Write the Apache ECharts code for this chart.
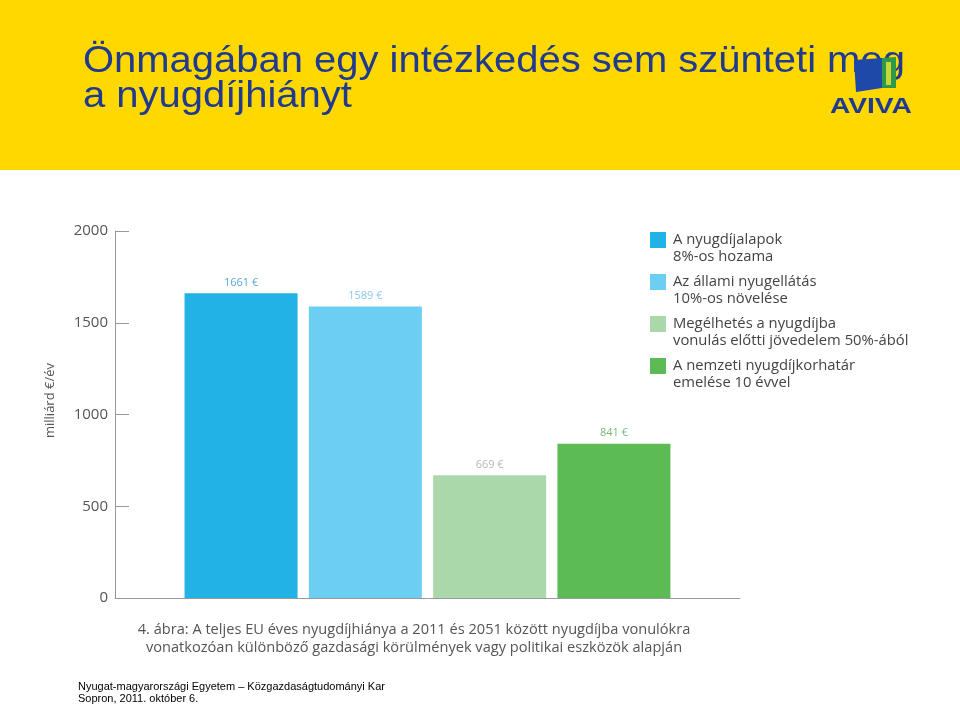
<!DOCTYPE html>
<html>
<head>
<meta charset="utf-8">
<script src="https://cdn.jsdelivr.net/npm/echarts@6/dist/echarts.min.js"></script>
<style>html,body{margin:0;padding:0;background:#fff}#c{width:960px;height:705px}</style>
</head>
<body>
<div id="c"></div>
<script>
var seriesNames = [
  'A nyugdíjalapok\n8%-os hozama',
  'Az állami nyugellátás\n10%-os növelése',
  'Megélhetés a nyugdíjba\nvonulás előtti jövedelem 50%-ából',
  'A nemzeti nyugdíjkorhatár\nemelése 10 évvel'
];
var seriesValues = [1661, 1589, 669, 841];
var seriesColors = ['#22B2E6', '#6BCEF2', '#ABD8AA', '#5DBB55'];
var labelColors = ['#5AA9D6', '#8CC9E8', '#B8B8B8', '#79B879'];
var categories = [''];
var yTicks = [0, 500, 1000, 1500, 2000];

var chart = echarts.init(document.getElementById('c'));
var series = seriesNames.map(function (n, i) {
  return {
    name: n,
    type: 'bar',
    data: [seriesValues[i]],
    barWidth: 113,
    barGap: '10%',
    itemStyle: { color: seriesColors[i] },
    label: {
      show: true,
      position: 'top',
      distance: 5,
      formatter: '{c} €',
      color: labelColors[i],
      fontFamily: 'Open Sans',
      fontSize: 11
    },
    silent: true
  };
});

chart.setOption({
  animation: false,
  backgroundColor: '#ffffff',
  title: [
    {
      text: '4. ábra: A teljes EU éves nyugdíjhiánya a 2011 és 2051 között nyugdíjba vonulókra\nvonatkozóan különböző gazdasági körülmények vagy politikai eszközök alapján',
      left: 414, top: 621, textAlign: 'center', padding: 0,
      textStyle: { fontFamily: 'Open Sans', fontSize: 14.6, fontWeight: 'normal', color: '#555', lineHeight: 18, align: 'center' }
    },
    {
      text: 'Nyugat-magyarországi Egyetem – Közgazdaságtudományi Kar\nSopron, 2011. október 6.',
      left: 78, top: 681, padding: 0,
      textStyle: { fontFamily: 'Liberation Sans', fontSize: 11, fontWeight: 'normal', color: '#000', lineHeight: 12 }
    }
  ],
  graphic: [
    { type: 'rect', z: -10, shape: { x: 0, y: 0, width: 960, height: 170 }, style: { fill: '#FFD800' }, silent: true },
    { type: 'text', z: 5, x: 83, y: 45, scaleX: 1.11, style: { text: 'Önmagában egy intézkedés sem szünteti meg\na nyugdíjhiányt', font: '36px "Liberation Sans"', fill: '#1F3A8F', lineHeight: 35 }, silent: true },
    { type: 'polygon', z: 10, shape: { points: [[854, 60], [882, 58], [882, 88], [856, 92]] }, style: { fill: '#1E49A8' }, silent: true },
    { type: 'polygon', z: 10, shape: { points: [[882, 58], [896, 57], [896, 88], [882, 88]] }, style: { fill: '#2E9A48' }, silent: true },
    { type: 'polygon', z: 11, shape: { points: [[886, 62], [891, 62], [891, 85], [886, 85]] }, style: { fill: '#C8D83A' }, silent: true },
    { type: 'text', z: 10, x: 830, y: 96, scaleX: 1.28, style: { text: 'AVIVA', font: 'bold 22px "Liberation Sans"', fill: '#1F3A8F' }, silent: true }
  ],
  legend: {
    orient: 'vertical',
    left: 645, top: 209.5,
    itemWidth: 16, itemHeight: 16,
    itemGap: -9,
    icon: 'rect',
    selectedMode: false,
    formatter: function (name) { return '\n' + name; },
    textStyle: { fontFamily: 'Open Sans', fontSize: 14.8, color: '#444', lineHeight: 17, padding: [0, 0, 0, 2] },
    data: seriesNames
  },
  grid: { left: 115, right: 220, top: 231, bottom: 107 },
  xAxis: {
    type: 'category',
    data: categories,
    axisLine: { lineStyle: { color: '#999' } },
    axisTick: { show: false },
    axisLabel: { show: false }
  },
  yAxis: {
    type: 'value',
    min: yTicks[0], max: yTicks[yTicks.length - 1], interval: 500,
    name: 'milliárd €/év',
    nameLocation: 'middle',
    nameGap: 58,
    nameRotate: 90,
    nameTextStyle: { fontFamily: 'Open Sans', fontSize: 13, color: '#555', padding: [0, 0, 0, 28] },
    axisLine: { show: true, lineStyle: { color: '#999' } },
    axisTick: { show: true, inside: true, length: 14, lineStyle: { color: '#999' } },
    axisLabel: { fontFamily: 'Open Sans', fontSize: 15, color: '#555', margin: 7, formatter: function (v) { return String(v); } },
    splitLine: { show: false }
  },
  series: series
});
</script>
</body>
</html>
